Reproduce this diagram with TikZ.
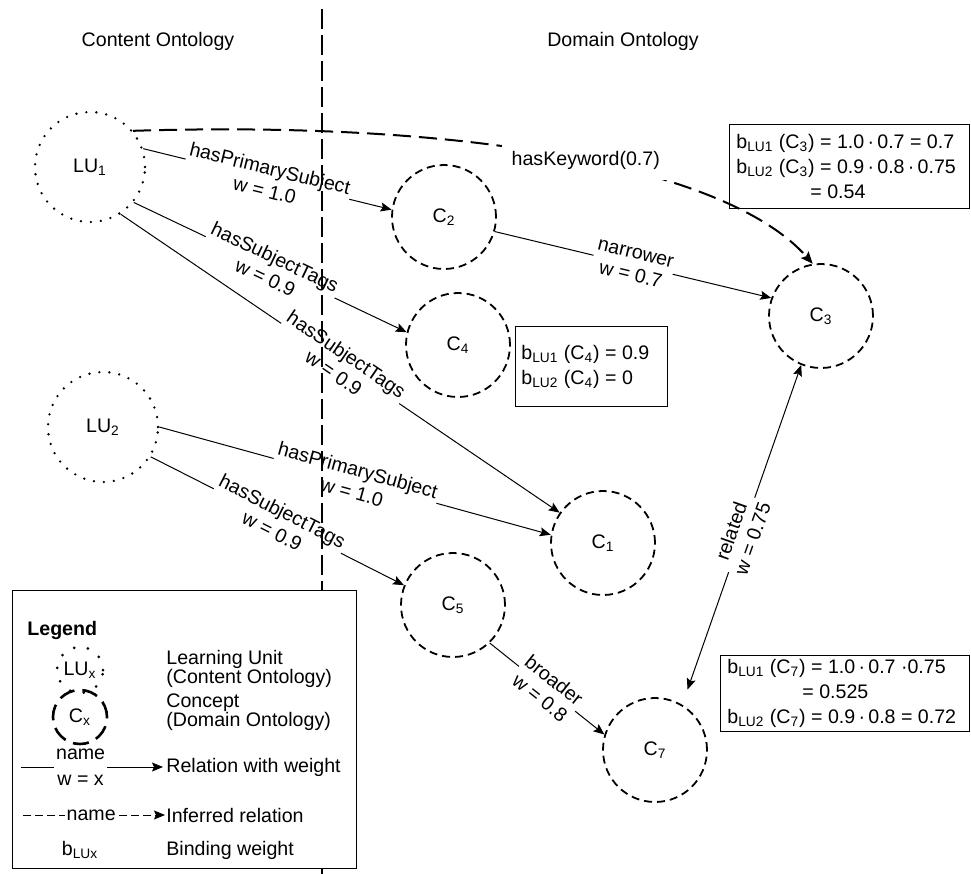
\documentclass[tikz,border=0pt]{standalone}
\usepackage{fontspec}
\setmainfont{Liberation Sans}
\usetikzlibrary{arrows.meta}
\newcommand{\bLU}[2]{b\textsubscript{LU#1} (C\textsubscript{#2})}
\newcommand{\md}{\,·\,}
\begin{document}
\begin{tikzpicture}[x=0.5pt,y=-0.5pt,
  every node/.style={font=\fontsize{9.8}{11.3}\selectfont},
  lu/.style={circle, draw, line width=1.3pt, dash pattern=on 0pt off 5pt, line cap=round, minimum size=55pt, inner sep=0pt},
  concept/.style={circle, draw, line width=0.9pt, dash pattern=on 4pt off 2.5pt, minimum size=52pt, inner sep=0pt},
  rel/.style={line width=0.5pt, -{Stealth[length=5.5pt,width=4.5pt,inset=1pt]}},
  infer/.style={line width=1pt, dash pattern=on 9pt off 4pt, -{Stealth[length=6pt,width=5pt,inset=1pt]}},
  rlabel/.style={fill=white, sloped, align=center, inner sep=1pt},
  boxframe/.style={draw, line width=0.6pt, anchor=north west, inner sep=0pt},
  boxtext/.style={anchor=west, align=left, inner sep=0pt, font=\fontsize{9.8}{12.5}\selectfont},
  plain/.style={anchor=west, inner sep=0pt, align=left, font=\fontsize{9.8}{9.35}\selectfont}
  ]
\useasboundingbox (0,0) rectangle (971,874);

% titles
\node (cont) at (158,41) {Content Ontology};
\node (dom) at (623,41) {Domain Ontology};

% nodes
\node[lu] (LU1) at (90,167) {LU\textsubscript{1}};
\node[lu] (LU2) at (103,427) {LU\textsubscript{2}};
\node[concept] (C2) at (444,217) {C\textsubscript{2}};
\node[concept] (C4) at (458,345) {C\textsubscript{4}};
\node[concept] (C1) at (603,543) {C\textsubscript{1}};
\node[concept] (C3) at (821,316) {C\textsubscript{3}};
\node[concept] (C5) at (453,605) {C\textsubscript{5}};
\node[concept] (C7) at (655,750) {C\textsubscript{7}};

% info boxes
\node[boxframe, minimum width=120pt, minimum height=42pt] (b3) at (729,124) {};
\node[boxtext] (b3t) at ([xshift=3.5pt]b3.west)
  {\bLU{1}{3} = 1.0\md 0.7 = 0.7\\ \bLU{2}{3} = 0.9\md 0.8\md 0.75\\ \hspace*{37pt}= 0.54};
\node[boxframe, minimum width=76pt, minimum height=40pt] (b4) at (515,326) {};
\node[boxtext] (b4t) at ([xshift=3pt]b4.west)
  {\bLU{1}{4} = 0.9\\ \bLU{2}{4} = 0};
\node[boxframe, minimum width=124.5pt, minimum height=38pt] (b7) at (720,655) {};
\node[boxtext] (b7t) at ([xshift=3.5pt]b7.west)
  {\bLU{1}{7} = 1.0\md 0.7 ·0.75\\ \hspace*{37.5pt}= 0.525\\ \bLU{2}{7} = 0.9\md 0.8 = 0.72};

% relations
\draw[rel] (LU1.19.8) -- node[rlabel]{hasPrimarySubject\\w = 1.0} (C2.172);
\draw[rel] (LU1.-39) -- node[rlabel]{hasSubjectTags\\w = 0.9} (C4.166);
\draw[rel] (LU1.-57) -- node[rlabel]{hasSubjectTags\\w = 0.9} (C1.145);
\draw[rel] (LU2.0) -- node[rlabel]{hasPrimarySubject\\w = 1.0} (C1.171);
\draw[rel] (LU2.-32) -- node[rlabel]{hasSubjectTags\\w = 0.9} (C5.158);
\draw[rel] (C2.-16) -- node[rlabel]{narrower\\w = 0.7} (C3.160);
\draw[rel] (C5.-46.5) -- node[rlabel]{broader\\w = 0.8} (C7.163);
\draw[line width=0.5pt, {Stealth[length=5.5pt,width=4.5pt,inset=1pt]}-{Stealth[length=5.5pt,width=4.5pt,inset=1pt]}, shorten <=8pt]
  (C7.59) -- node[rlabel]{related\\w = 0.75} (C3.-112);

% inferred relation
\draw[infer] (LU1.40.6) .. controls (480,120) and (730,170) ..
  node[pos=0.52, fill=white, inner sep=5pt]{hasKeyword(0.7)} (C3.99);

% divider
\coordinate (divtop) at (322,9);
\coordinate (divbot) at (322,874);
\draw[line width=1pt, dash pattern=on 10pt off 3pt] (divtop) -- (divbot);

% legend
\node[draw, fill=white, line width=0.6pt, minimum width=172pt, minimum height=139pt, anchor=north west, inner sep=0pt] (legbox) at (12,590) {};
\node[anchor=west, inner sep=0pt, font=\fontsize{9.8}{10.5}\selectfont\bfseries] (legtitle) at (27,630) {Legend};
\node[lu, minimum size=23pt, line width=1.5pt, dash pattern=on 0pt off 7pt] (legLU) at (80,670) {LU\textsubscript{x}};
\node[concept, minimum size=27pt, line width=1.3pt, dash pattern=on 8pt off 4pt] (legC) at (80,717) {C\textsubscript{x}};
\node[plain] (legt1) at (166,669) {Learning Unit\\(Content Ontology)};
\node[plain] (legt2) at (166,712) {Concept\\(Domain Ontology)};
\coordinate (rA) at (21,767);
\coordinate (rB) at (163,767);
\draw[rel] (rA) -- node[pos=0.42, fill=white, align=center, inner sep=1pt, font=\fontsize{9.8}{13}\selectfont]{name\\w = x} (rB);
\node[plain] (legt3) at (166,767) {Relation with weight};
\coordinate (iA) at (23,815);
\coordinate (iB) at (165,815);
\draw[rel, dash pattern=on 4pt off 2pt] (iA) -- node[pos=0.48, fill=white, inner sep=1pt]{name} (iB);
\node[plain] (legt4) at (166,815) {Inferred relation};
\node (legb) at (80,850) {b\textsubscript{LUx}};
\node[plain] (legt5) at (166,850) {Binding weight};
\end{tikzpicture}
\end{document}
